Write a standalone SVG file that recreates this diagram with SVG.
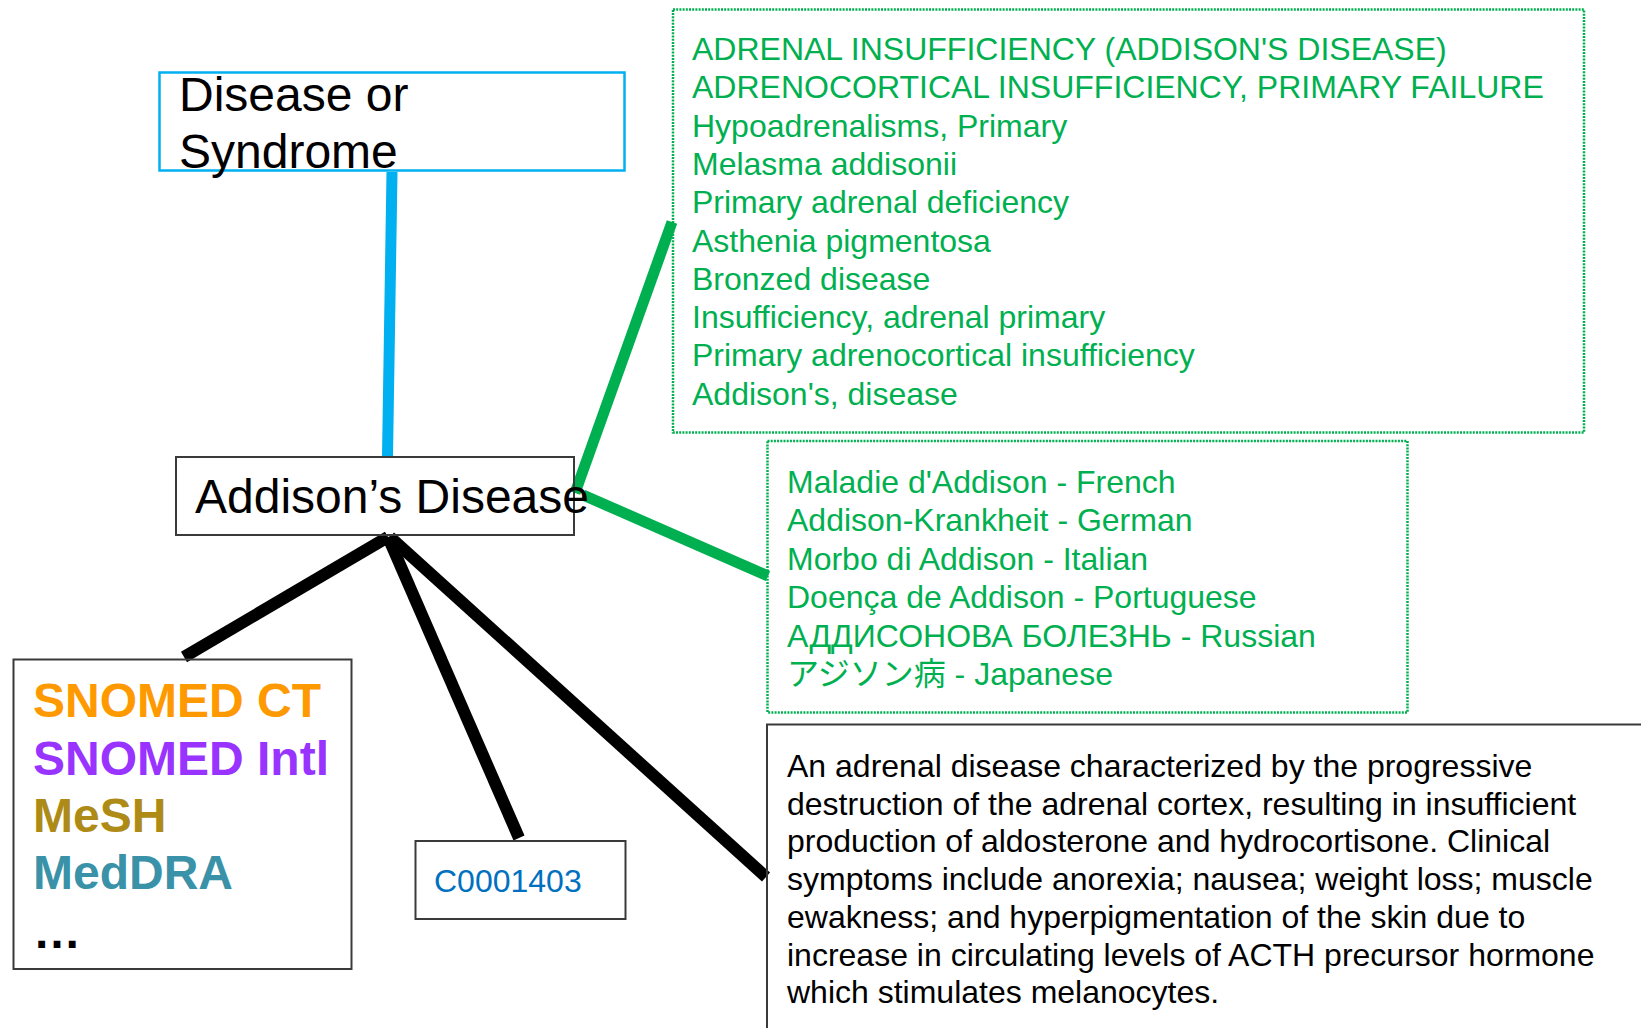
<svg xmlns="http://www.w3.org/2000/svg" width="1641" height="1028" viewBox="0 0 1641 1028">
  <style>
    text { font-family: "Liberation Sans", Arial, "Noto Sans CJK JP", sans-serif; }
    .box { fill: none; stroke: #3a3a3a; stroke-width: 2; }
    .dot { fill: none; stroke: #00b050; stroke-width: 2.5; stroke-dasharray: 2 1.2; }
    .syn { font-size: 32px; fill: #00b050; }
    .desc { font-size: 32px; fill: #000; }
    .big { font-size: 48px; fill: #000; }
    .src { font-size: 48px; font-weight: bold; }
  </style>
  <rect width="1641" height="1028" fill="#fff"/>

  <!-- connectors -->
  <g id="connectors" fill="none" stroke-linecap="butt">
    <line x1="392" y1="172" x2="387.5" y2="456" stroke="#00b0f0" stroke-width="11"/>
    <line x1="575" y1="493" x2="672" y2="222" stroke="#00b050" stroke-width="11"/>
    <line x1="583" y1="495" x2="768" y2="576" stroke="#00b050" stroke-width="11"/>
    <line x1="388" y1="537" x2="184" y2="657" stroke="#000" stroke-width="12"/>
    <line x1="388" y1="537" x2="519" y2="838" stroke="#000" stroke-width="12"/>
    <line x1="390" y1="537" x2="766" y2="877" stroke="#000" stroke-width="12"/>
  </g>

  <!-- semantic type -->
  <g id="node-semantic-type">
    <rect x="159.5" y="72.5" width="465" height="98" fill="none" stroke="#00b0f0" stroke-width="2.5"/>
    <text class="big" x="179" y="111">Disease or</text>
    <text class="big" x="179" y="168">Syndrome</text>
  </g>

  <!-- concept -->
  <g id="node-concept">
    <rect class="box" x="176" y="457" width="398" height="78"/>
    <text class="big" x="195" y="513">Addison’s Disease</text>
  </g>

  <!-- synonyms -->
  <g id="node-synonyms">
    <rect class="dot" x="673" y="9.5" width="911" height="423"/>
    <text class="syn" x="692" y="60">ADRENAL INSUFFICIENCY (ADDISON'S DISEASE)</text>
    <text class="syn" x="692" y="98.3">ADRENOCORTICAL INSUFFICIENCY, PRIMARY FAILURE</text>
    <text class="syn" x="692" y="136.6">Hypoadrenalisms, Primary</text>
    <text class="syn" x="692" y="174.9">Melasma addisonii</text>
    <text class="syn" x="692" y="213.2">Primary adrenal deficiency</text>
    <text class="syn" x="692" y="251.5">Asthenia pigmentosa</text>
    <text class="syn" x="692" y="289.8">Bronzed disease</text>
    <text class="syn" x="692" y="328.1">Insufficiency, adrenal primary</text>
    <text class="syn" x="692" y="366.4">Primary adrenocortical insufficiency</text>
    <text class="syn" x="692" y="404.7">Addison's, disease</text>
  </g>

  <!-- translations -->
  <g id="node-translations">
    <rect class="dot" x="767.5" y="441" width="640" height="271.5"/>
    <text class="syn" x="787" y="492.7">Maladie d'Addison - French</text>
    <text class="syn" x="787" y="531.2">Addison-Krankheit - German</text>
    <text class="syn" x="787" y="569.7">Morbo di Addison - Italian</text>
    <text class="syn" x="787" y="608.2">Doença de Addison - Portuguese</text>
    <text class="syn" x="787" y="646.7">АДДИСОНОВА БОЛЕЗНЬ - Russian</text>
    <text class="syn" x="787" y="685.2">アジソン病 - Japanese</text>
  </g>

  <!-- source vocabularies -->
  <g id="node-sources">
    <rect class="box" x="13.5" y="659.5" width="338" height="309.5"/>
    <text class="src" x="33" y="717" fill="#ff9900">SNOMED CT</text>
    <text class="src" x="33" y="775" fill="#9933ff">SNOMED Intl</text>
    <text class="src" x="33" y="832" fill="#ad8b16">MeSH</text>
    <text class="src" x="33" y="889" fill="#3a92a8">MedDRA</text>
    <text class="src" x="33" y="948" fill="#000">…</text>
  </g>

  <!-- concept identifier -->
  <g id="node-cui">
    <rect class="box" x="415.5" y="841" width="210" height="78"/>
    <text x="434" y="892" font-size="32" fill="#0070c0">C0001403</text>
  </g>

  <!-- definition -->
  <g id="node-definition">
    <rect class="box" x="767" y="724.5" width="1000" height="400"/>
    <text class="desc" x="787" y="777">An adrenal disease characterized by the progressive</text>
    <text class="desc" x="787" y="814.7">destruction of the adrenal cortex, resulting in insufficient</text>
    <text class="desc" x="787" y="852.4">production of aldosterone and hydrocortisone. Clinical</text>
    <text class="desc" x="787" y="890.1">symptoms include anorexia; nausea; weight loss; muscle</text>
    <text class="desc" x="787" y="927.8">ewakness; and hyperpigmentation of the skin due to</text>
    <text class="desc" x="787" y="965.5">increase in circulating levels of ACTH precursor hormone</text>
    <text class="desc" x="787" y="1003.2">which stimulates melanocytes.</text>
  </g>
</svg>
